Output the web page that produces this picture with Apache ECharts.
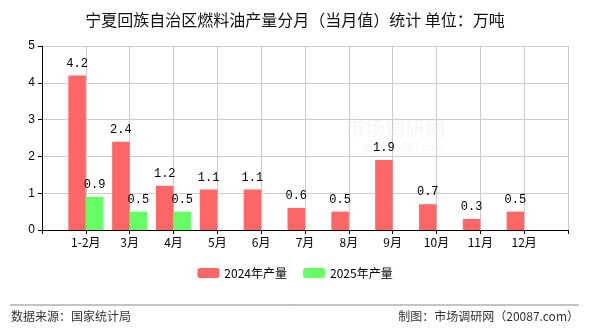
<!DOCTYPE html>
<html>
<head>
<meta charset="utf-8">
<script src="https://cdn.jsdelivr.net/npm/echarts@6/dist/echarts.min.js"></script>
<style>
  html, body { margin: 0; padding: 0; background: #fff; }
  #chart { width: 590px; height: 330px; }
</style>
</head>
<body>
<div id="chart"></div>
<script>
// categories: empty slots at both ends so the months sit on the ticks
var months = ['', '1-2月', '3月', '4月', '5月', '6月', '7月', '8月', '9月', '10月', '11月', '12月', ''];
var seriesNames = ['2024年产量', '2025年产量'];
var values2024 = ['-', 4.2, 2.4, 1.2, 1.1, 1.1, 0.6, 0.5, 1.9, 0.7, 0.3, 0.5, '-'];
var values2025 = ['-', 0.9, 0.5, 0.5, '-', '-', '-', '-', '-', '-', '-', '-', '-'];
var colors = ['#ff6666', '#66ff66'];

var cjk = '"Noto Sans CJK SC", "Noto Sans", sans-serif';

function barSeries(name, data, color) {
  return {
    name: name,
    type: 'bar',
    data: data,
    barWidth: 17.5,
    barGap: '0%',
    itemStyle: { color: color },
    label: {
      show: true,
      position: 'top',
      distance: 6,
      color: '#000',
      fontSize: 12,
      fontFamily: '"Liberation Mono", monospace'
    }
  };
}

var chart = echarts.init(document.getElementById('chart'));
chart.setOption({
  backgroundColor: '#fff',
  animation: false,
  title: {
    text: '宁夏回族自治区燃料油产量分月（当月值）统计 单位：万吨',
    left: 'center',
    top: 7,
    textStyle: { fontSize: 16, fontWeight: 'normal', color: '#111', fontFamily: cjk }
  },
  legend: {
    data: seriesNames,
    bottom: 46,
    left: 'center',
    itemWidth: 22,
    itemHeight: 10,
    itemGap: 16,
    textStyle: { fontSize: 12, color: '#000', fontFamily: cjk }
  },
  grid: { left: 42, right: 22, top: 46, bottom: 100 },
  xAxis: {
    type: 'category',
    data: months,
    boundaryGap: false,
    axisLine: { lineStyle: { color: '#000' } },
    axisTick: { show: true, length: 4, lineStyle: { color: '#000' } },
    axisLabel: { color: '#000', fontSize: 12, margin: 6, interval: 0, fontFamily: cjk },
    splitLine: { show: true, lineStyle: { color: '#ccc' } }
  },
  yAxis: {
    type: 'value',
    min: 0,
    max: 5,
    interval: 1,
    axisLine: { show: true, lineStyle: { color: '#000' } },
    axisTick: { show: true, length: 4, lineStyle: { color: '#000' } },
    axisLabel: { color: '#000', fontSize: 12, margin: 7 },
    splitLine: { show: true, lineStyle: { color: '#ccc' } }
  },
  series: [
    barSeries(seriesNames[0], values2024, colors[0]),
    barSeries(seriesNames[1], values2025, colors[1])
  ],
  graphic: [
    {
      type: 'text', left: 345, top: 118, z: -1,
      style: { text: '市场调研网', fontSize: 20, fill: 'rgba(0,0,0,0.04)', fontFamily: cjk }
    },
    {
      type: 'text', left: 362, top: 142, z: -1,
      style: { text: 'www.20087.com', fontSize: 11, fill: 'rgba(0,0,0,0.04)' }
    },
    {
      type: 'line',
      shape: { x1: 10, y1: 305, x2: 579, y2: 305 },
      style: { stroke: '#888', lineWidth: 1 }
    },
    {
      type: 'text', left: 11, top: 310,
      style: { text: '数据来源：国家统计局', fontSize: 12, fill: '#333', fontFamily: cjk }
    },
    {
      type: 'text', right: 11, top: 310,
      style: { text: '制图：市场调研网（20087.com）', fontSize: 12, fill: '#333', fontFamily: cjk }
    }
  ]
});
</script>
</body>
</html>
